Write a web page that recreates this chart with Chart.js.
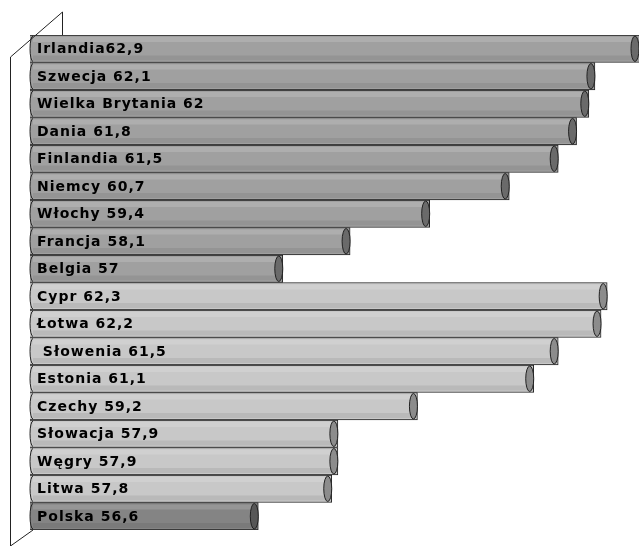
<!DOCTYPE html>
<html>
<head>
<meta charset="utf-8">
<script src="https://cdn.jsdelivr.net/npm/chart.js@4"></script>
<style>
  body { margin: 0; background: #fff; }
  #wrap { width: 639px; height: 546px; }
</style>
</head>
<body>
<div id="wrap"><canvas id="barChart"></canvas></div>
<script>
const countries = ['Irlandia', 'Szwecja', 'Wielka Brytania', 'Dania', 'Finlandia', 'Niemcy', 'Włochy', 'Francja', 'Belgia',
  'Cypr', 'Łotwa', 'Słowenia', 'Estonia', 'Czechy', 'Słowacja', 'Węgry', 'Litwa', 'Polska'];
const values = [62.9, 62.1, 62, 61.8, 61.5, 60.7, 59.4, 58.1, 57,
  62.3, 62.2, 61.5, 61.1, 59.2, 57.9, 57.9, 57.8, 56.6];
const labelTexts = ['Irlandia62,9', 'Szwecja 62,1', 'Wielka Brytania 62', 'Dania 61,8', 'Finlandia 61,5', 'Niemcy 60,7',
  'Włochy 59,4', 'Francja 58,1', 'Belgia 57', 'Cypr 62,3', 'Łotwa 62,2', ' Słowenia 61,5', 'Estonia 61,1',
  'Czechy 59,2', 'Słowacja 57,9', 'Węgry 57,9', 'Litwa 57,8', 'Polska 56,6'];
const groups = ['old', 'old', 'old', 'old', 'old', 'old', 'old', 'old', 'old',
  'new', 'new', 'new', 'new', 'new', 'new', 'new', 'new', 'pl'];

const fills = { old: '#a0a0a0', new: '#c8c8c8', pl: '#848484' };
const caps = { old: '#6a6a6a', new: '#8c8c8c', pl: '#575757' };

// 3d wall + end caps + labels
const decor = {
  id: 'decor',
  afterDatasetsDraw(chart) {
    const c = chart.ctx;
    const a = chart.chartArea;
    const meta = chart.getDatasetMeta(0);
    c.save();
    meta.data.forEach((bar, i) => {
      const h = bar.height;
      const top = bar.y - h / 2;
      const start = Math.max(bar.base, a.left);
      const end = Math.min(bar.x, a.right);
      // light band on top, dark one below
      c.fillStyle = 'rgba(255,255,255,0.15)';
      c.fillRect(start + 3, top + 2, end - start - 8, 5);
      c.fillStyle = 'rgba(0,0,0,0.07)';
      c.fillRect(start + 3, top + h - 7, end - start - 8, 5);
      // rounded end cap
      c.fillStyle = caps[groups[i]];
      c.strokeStyle = '#222';
      c.lineWidth = 1;
      c.beginPath();
      c.ellipse(end - 4, bar.y, 4, h / 2 - 1, 0, 0, Math.PI * 2);
      c.fill();
      c.stroke();
      // rounded start
      c.beginPath();
      c.ellipse(start + 3, bar.y, 3, h / 2 - 1, 0, Math.PI / 2, Math.PI * 1.5);
      c.stroke();
      // label
      c.fillStyle = '#000';
      c.font = 'bold 14px "DejaVu Sans", sans-serif';
      c.letterSpacing = '1px';
      c.textBaseline = 'middle';
      c.fillText(labelTexts[i], a.left + 7, bar.y + 1);
    });
    // wall
    c.strokeStyle = '#222';
    c.lineWidth = 1;
    c.beginPath();
    c.moveTo(10.5, 546);
    c.lineTo(10.5, 57);
    c.lineTo(62.5, 12);
    c.lineTo(62.5, a.top);
    c.moveTo(10.5, 546);
    c.lineTo(a.left + 3, a.bottom);
    c.stroke();
    c.restore();
  }
};

new Chart(document.getElementById('barChart'), {
  type: 'bar',
  data: {
    labels: countries,
    datasets: [{
      data: values,
      backgroundColor: groups.map(g => fills[g]),
      borderColor: '#222',
      borderWidth: 1,
      barPercentage: 1,
      categoryPercentage: 1
    }]
  },
  plugins: [decor],
  options: {
    indexAxis: 'y',
    responsive: true,
    maintainAspectRatio: false,
    animation: false,
    layout: { padding: { top: 35, bottom: 16, left: 30, right: 0 } },
    plugins: { legend: { display: false }, tooltip: { enabled: false } },
    scales: {
      x: { display: false, min: 52.87, max: 62.82 },
      y: { display: false }
    }
  }
});
</script>
</body>
</html>
